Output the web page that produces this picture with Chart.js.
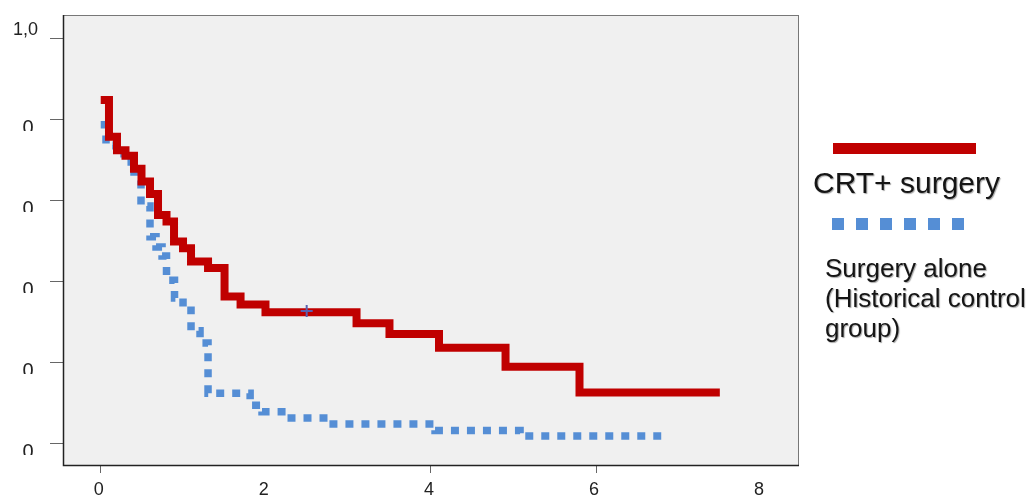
<!DOCTYPE html>
<html lang="en">
<head>
  <meta charset="UTF-8" />
  <title>Survival curves</title>
  <script src="https://cdn.jsdelivr.net/npm/chart.js"></script>
  <style>
    body { margin: 0; background: #fff; font-family: 'Liberation Sans', Arial, sans-serif; }
    #wrap { position: relative; width: 1033px; height: 495px; overflow: hidden; }
    .leg { position: absolute; color: #151515; white-space: nowrap; text-shadow: 1px 1px 1px rgba(0,0,0,0.35); }
    #leg1 { left: 813px; top: 168px; font-size: 30px; line-height: 30px; }
    #leg2 { left: 825px; top: 253px; font-size: 26px; line-height: 30px; }
  </style>
</head>
<body>
  <div id="wrap">
    <canvas id="km" width="1033" height="495"></canvas>
    <div class="leg" id="leg1">CRT+ surgery</div>
    <div class="leg" id="leg2">Surgery alone<br>(Historical control<br>group)</div>
  </div>

  <script>
    // step points: (time of drop, level after drop)
    const crtX = [0, 0.10, 0.197, 0.30, 0.403, 0.494, 0.597, 0.694, 0.797, 0.888, 0.997, 1.094, 1.30, 1.50, 1.694, 1.996, 3.099, 3.498, 4.098, 4.904, 5.80, 7.50];
    const crtY = [0.847, 0.756, 0.723, 0.709, 0.677, 0.646, 0.615, 0.563, 0.547, 0.4975, 0.481, 0.448, 0.432, 0.362, 0.342, 0.323, 0.296, 0.269, 0.235, 0.188, 0.125, 0.125];

    const aloneX = [0, 0.064, 0.185, 0.282, 0.403, 0.488, 0.597, 0.670, 0.743, 0.797, 0.894, 0.997, 1.094, 1.203, 1.30, 1.81, 1.954, 2.257, 2.755, 4.05, 5.08, 6.79];
    const aloneY = [0.786, 0.736, 0.719, 0.694, 0.669, 0.585, 0.509, 0.484, 0.462, 0.402, 0.358, 0.328, 0.277, 0.247, 0.123, 0.093, 0.077, 0.062, 0.047, 0.031, 0.017, 0.017];

    const censorX = [2.495];
    const censorY = [0.326];

    const xTickValues = [0, 2, 4, 6, 8];
    const yTickValues = [0, 0.2, 0.4, 0.6, 0.8, 1.0];
    const yTickLabels = ['0', '0', '0', '0', '0', '1,0'];

    const RED = '#c00000';
    const BLUE = '#558ed5';
    const FONT = '"Liberation Sans", Arial, sans-serif';

    const pts = (xs, ys) => xs.map((x, i) => ({ x: x, y: ys[i] }));

    const framePlugin = {
      id: 'frame',
      beforeDatasetsDraw(chart) {
        const { ctx, chartArea: a } = chart;
        ctx.save();
        ctx.fillStyle = '#f0f0f0';
        ctx.fillRect(a.left, a.top, a.right - a.left, a.bottom - a.top);
        ctx.restore();
      },
      afterDraw(chart) {
        const { ctx, chartArea: a } = chart;
        const ys = chart.scales.y;
        ctx.save();
        // frame
        ctx.strokeStyle = '#777';
        ctx.lineWidth = 1;
        ctx.strokeRect(a.left + 0.5, a.top + 0.5, a.right - a.left, a.bottom - a.top);
        ctx.strokeStyle = '#222';
        ctx.lineWidth = 1.5;
        ctx.beginPath();
        ctx.moveTo(a.left + 0.5, a.top);
        ctx.lineTo(a.left + 0.5, a.bottom + 0.5);
        ctx.lineTo(a.right + 1, a.bottom + 0.5);
        ctx.stroke();

        // y tick labels (lower ones are cut off in the original)
        ctx.fillStyle = '#222';
        yTickValues.forEach((v, i) => {
          const py = ys.getPixelForValue(v);
          if (i === yTickValues.length - 1) {
            ctx.font = '18px ' + FONT;
            ctx.textAlign = 'right';
            ctx.fillText(yTickLabels[i], 38, py - 3);
          } else {
            ctx.save();
            ctx.beginPath();
            ctx.rect(0, py - 4, 60, 16);
            ctx.clip();
            ctx.font = '20px ' + FONT;
            ctx.textAlign = 'center';
            ctx.fillText(yTickLabels[i], 28, py + 14.8);
            ctx.restore();
          }
        });

        // legend samples
        ctx.lineCap = 'butt';
        ctx.strokeStyle = RED;
        ctx.lineWidth = 11;
        ctx.beginPath();
        ctx.moveTo(833, 148.5);
        ctx.lineTo(976, 148.5);
        ctx.stroke();
        ctx.strokeStyle = BLUE;
        ctx.lineWidth = 12;
        ctx.setLineDash([12, 12]);
        ctx.beginPath();
        ctx.moveTo(832, 224);
        ctx.lineTo(968, 224);
        ctx.stroke();
        ctx.restore();
      }
    };

    new Chart(document.getElementById('km'), {
      type: 'line',
      data: {
        datasets: [
          {
            label: 'censored',
            type: 'scatter',
            data: pts(censorX, censorY),
            pointStyle: 'cross',
            pointRadius: 6,
            borderWidth: 2,
            borderColor: '#5b60b0',
            order: 0
          },
          {
            label: 'CRT+ surgery',
            data: pts(crtX, crtY),
            borderColor: RED,
            borderWidth: 8,
            stepped: true,
            pointRadius: 0,
            fill: false,
            borderJoinStyle: 'miter',
            borderCapStyle: 'butt',
            order: 1
          },
          {
            label: 'Surgery alone (Historical control group)',
            data: pts(aloneX, aloneY),
            borderColor: BLUE,
            borderWidth: 7.5,
            borderDash: [8, 8],
            stepped: true,
            pointRadius: 0,
            fill: false,
            borderJoinStyle: 'miter',
            borderCapStyle: 'butt',
            order: 2
          }
        ]
      },
      options: {
        responsive: false,
        animation: false,
        events: [],
        layout: { padding: { left: 0, top: 15, right: 235, bottom: 0 } },
        plugins: { legend: { display: false }, tooltip: { enabled: false } },
        scales: {
          x: {
            type: 'linear',
            min: -0.457,
            max: 8.447,
            afterBuildTicks: s => { s.ticks = xTickValues.map(v => ({ value: v })); },
            afterFit: s => { s.height = 30; },
            border: { display: false },
            grid: {
              drawOnChartArea: false,
              tickLength: 8,
              color: c => (c.tick && (c.tick.value === 2 || c.tick.value === 8)) ? 'rgba(0,0,0,0)' : '#666'
            },
            ticks: {
              font: { size: 18, family: FONT },
              color: '#222',
              padding: 6,
              labelOffset: -2,
              maxRotation: 0
            }
          },
          y: {
            type: 'linear',
            min: -0.0543,
            max: 1.0568,
            afterBuildTicks: s => { s.ticks = yTickValues.map(v => ({ value: v })); },
            afterFit: s => { s.width = 63; },
            border: { display: false },
            grid: { drawOnChartArea: false, tickLength: 13, color: '#666' },
            ticks: { color: 'rgba(0,0,0,0)', font: { size: 18, family: FONT } }
          }
        }
      },
      plugins: [framePlugin]
    });
  </script>
</body>
</html>
